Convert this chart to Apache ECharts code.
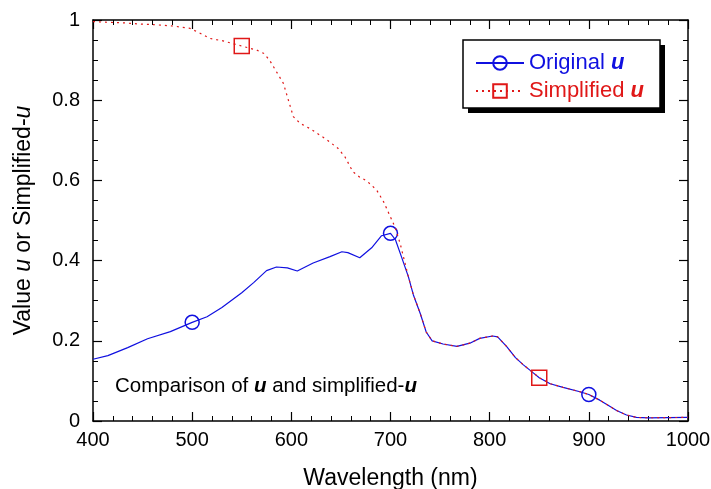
<!DOCTYPE html>
<html>
<head>
<meta charset="utf-8">
<script src="https://cdn.jsdelivr.net/npm/echarts@6/dist/echarts.min.js"></script>
<style>
  html, body { margin: 0; padding: 0; background: #fff; }
  #chart { width: 711px; height: 489px; }
</style>
</head>
<body>
<div id="chart"></div>
<script>
// wavelength (nm) and value
const origX = [400, 415, 435, 455, 478, 500, 515, 530, 550, 562, 575, 585, 596, 606, 622, 639, 651, 657, 669, 681, 691, 700, 705, 711, 718, 723, 730, 736, 742, 753, 767, 780, 790, 803, 808, 817, 826, 834, 844, 850, 861, 874, 891, 900, 911, 919, 928, 938, 948, 960, 1000];
const origU = [0.154, 0.163, 0.183, 0.205, 0.223, 0.246, 0.26, 0.283, 0.32, 0.345, 0.375, 0.384, 0.382, 0.374, 0.394, 0.41, 0.422, 0.42, 0.407, 0.432, 0.462, 0.468, 0.452, 0.41, 0.36, 0.315, 0.268, 0.222, 0.2, 0.192, 0.186, 0.194, 0.206, 0.212, 0.21, 0.186, 0.158, 0.14, 0.12, 0.108, 0.093, 0.084, 0.073, 0.066, 0.052, 0.04, 0.026, 0.015, 0.009, 0.008, 0.009];

// simplified-u up to where it joins the original curve
const simpX = [400, 417, 430, 447, 464, 481, 498, 508, 518, 531, 550, 565, 572, 578, 585, 592, 595, 599, 602, 609, 619, 636, 647, 654, 662, 669, 676, 686, 693, 699, 705, 710, 715, 718];
const simpU = [0.996, 0.994, 0.993, 0.99, 0.988, 0.985, 0.979, 0.967, 0.954, 0.948, 0.935, 0.925, 0.917, 0.9, 0.871, 0.842, 0.817, 0.784, 0.759, 0.742, 0.729, 0.701, 0.68, 0.659, 0.622, 0.608, 0.599, 0.576, 0.547, 0.514, 0.481, 0.44, 0.39, 0.36];
const joinAt = 723;

const origMarks = [500, 700, 900];
const simpMarks = [550, 850];

const font = 'Liberation Sans, Arial, Helvetica, sans-serif';
const blue = '#1010e0';
const red = '#e01818';

function build(xs, ys, marks) {
  return xs.map((x, i) => ({ value: [x, ys[i]], symbol: marks.includes(x) ? undefined : 'none' }));
}

const origData = build(origX, origU, origMarks);
const tailX = origX.filter(x => x >= joinAt);
const tailU = origU.filter((u, i) => origX[i] >= joinAt);
const simpData = build(simpX.concat(tailX), simpU.concat(tailU), simpMarks);

const chart = echarts.init(document.getElementById('chart'));

const axisLine = { show: true, onZero: false, lineStyle: { color: '#000', width: 1.5 } };
const axisTick = { show: true, inside: true, length: 9, lineStyle: { color: '#000', width: 1.2 } };
const minorX = { show: true, splitNumber: 5, length: 5, lineStyle: { color: '#000', width: 1 } };
const minorY = { show: true, splitNumber: 4, length: 5, lineStyle: { color: '#000', width: 1 } };

chart.setOption({
  animation: false,
  textStyle: { fontFamily: font },
  grid: { left: 93, right: 23, top: 20, bottom: 68, outerBoundsMode: 'none', containLabel: false },
  legend: {
    orient: 'vertical',
    left: 475,
    top: 52,
    padding: 0,
    itemGap: 6,
    itemWidth: 48,
    itemHeight: 17,
    z: 10,
    textStyle: {
      fontFamily: font,
      fontSize: 22,
      rich: { u: { fontWeight: 'bold', fontStyle: 'italic', fontSize: 22, fontFamily: font } }
    },
    formatter: name => name === 'Original' ? 'Original {u|u}' : 'Simplified {u|u}',
    data: [
      { name: 'Original', textStyle: { color: blue } },
      { name: 'Simplified', textStyle: { color: red } }
    ]
  },
  xAxis: [
    {
      type: 'value', min: 400, max: 1000, interval: 100, position: 'bottom',
      axisLine, axisTick, minorTick: minorX, splitLine: { show: false },
      axisLabel: { color: '#000', fontSize: 20, margin: 9, fontFamily: font, formatter: v => String(v) },
      name: 'Wavelength (nm)', nameLocation: 'middle', nameGap: 46,
      nameTextStyle: { color: '#000', fontSize: 23, fontFamily: font }
    },
    {
      type: 'value', min: 400, max: 1000, interval: 100, position: 'top',
      axisLine, axisTick, minorTick: minorX, splitLine: { show: false },
      axisLabel: { show: false }
    }
  ],
  yAxis: [
    {
      type: 'value', min: 0, max: 1, interval: 0.2, position: 'left',
      axisLine, axisTick, minorTick: minorY, splitLine: { show: false },
      axisLabel: { color: '#000', fontSize: 20, margin: 13, fontFamily: font },
      name: 'Value {i|u} or Simplified-{i|u}', nameLocation: 'middle', nameGap: 58,
      nameTextStyle: {
        color: '#000', fontSize: 23, fontFamily: font,
        rich: { i: { fontStyle: 'italic', fontSize: 23, fontFamily: font, color: '#000' } }
      }
    },
    {
      type: 'value', min: 0, max: 1, interval: 0.2, position: 'right',
      axisLine, axisTick, minorTick: minorY, splitLine: { show: false },
      axisLabel: { show: false }
    }
  ],
  graphic: [
    { type: 'rect', z: 5, shape: { x: 468, y: 45, width: 197, height: 68 }, style: { fill: '#000' } },
    { type: 'rect', z: 6, shape: { x: 463, y: 40, width: 197, height: 68 }, style: { fill: '#fff', stroke: '#000', lineWidth: 1.5 } },
    {
      type: 'text',
      left: 115,
      top: 376,
      style: {
        text: 'Comparison of {b|u} and simplified-{b|u}',
        font: '20.5px ' + font,
        fill: '#000',
        rich: { b: { fontWeight: 'bold', fontStyle: 'italic', fontSize: 20.5, fontFamily: font, fill: '#000' } }
      }
    }
  ],
  series: [
    {
      name: 'Original',
      type: 'line',
      data: origData,
      symbol: 'circle',
      symbolSize: 14,
      showAllSymbol: true,
      color: blue,
      itemStyle: { color: 'rgba(0,0,0,0)', borderColor: blue, borderWidth: 1.5 },
      lineStyle: { color: blue, width: 1.2 },
      z: 2
    },
    {
      name: 'Simplified',
      type: 'line',
      data: simpData,
      symbol: 'rect',
      symbolSize: 15,
      showAllSymbol: true,
      color: red,
      itemStyle: { color: 'rgba(0,0,0,0)', borderColor: red, borderWidth: 1.5 },
      lineStyle: { color: red, width: 1.2, type: [2, 4] },
      z: 3
    }
  ]
});
</script>
</body>
</html>
